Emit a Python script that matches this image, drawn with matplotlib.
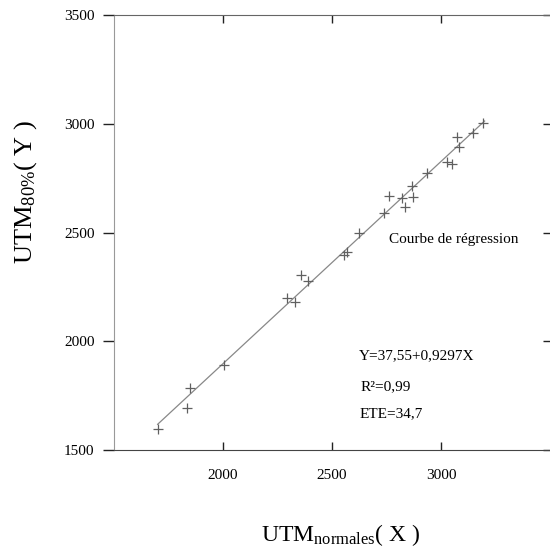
import numpy as np
import matplotlib
matplotlib.use('Agg')
import matplotlib.pyplot as plt

plt.rcParams['font.family'] = ['Liberation Serif', 'DejaVu Serif']
plt.rcParams['mathtext.fontset'] = 'custom'
plt.rcParams['mathtext.rm'] = 'Liberation Serif'
plt.rcParams['mathtext.it'] = 'Liberation Serif:italic'

# UTM normales (X) vs UTM 80% (Y)
utm_normales = [1700, 1835, 1850, 2005, 2295, 2330, 2360, 2390, 2554, 2569,
                2624, 2737, 2761, 2822, 2833, 2868, 2871, 2935, 3026, 3051,
                3072, 3081, 3148, 3191]
utm_80 = [1595, 1692, 1784, 1891, 2200, 2179, 2305, 2277, 2397, 2412,
          2497, 2589, 2668, 2657, 2616, 2714, 2662, 2773, 2824, 2816,
          2937, 2895, 2957, 3003]

intercept = 37.55
slope = 0.9297

xticks = [2000, 2500, 3000]
yticks = [1500, 2000, 2500, 3000, 3500]

fig = plt.figure(figsize=(5.5, 5.52), dpi=100)
ax = fig.add_axes([0.2073, 0.1848, 0.7927, 0.788])

xl = np.array([min(utm_normales), 3200])
ax.plot(xl, intercept + slope*xl, color='#888888', lw=0.9)
ax.plot(utm_normales, utm_80, '+', color='#606060', ms=7, mew=0.9)

ax.set_xlim(1500, 3500)
ax.set_ylim(1500, 3500)
ax.set_xticks(xticks)
ax.set_yticks(yticks)
ax.tick_params(axis='x', direction='in', length=6, width=1.0, color='#222222',
               labelsize=11, top=True, pad=14)
ax.tick_params(axis='y', direction='out', length=8, width=1.0, color='#222222',
               labelsize=11, pad=6)
ax.tick_params(axis='y', which='major', right=True)
for t in ax.yaxis.get_major_ticks():
    t.tick2line.set_marker(matplotlib.lines.TICKLEFT)
    t.tick2line.set_markersize(5)
ax.spines['left'].set_color('#999999')
ax.spines['bottom'].set_color('#444444')
ax.spines['top'].set_color('#666666')
ax.spines['right'].set_visible(False)

ax.text(2760, 2466, 'Courbe de régression', fontsize=11, va='center')
ax.text(2624, 1932, 'Y=37,55+0,9297X', fontsize=11, va='center')
ax.text(2630, 1791, 'R²=0,99', fontsize=11, va='center')
ax.text(2624, 1666, 'ETE=34,7', fontsize=11, va='center')

fig.text(0.047, 0.652, r'UTM$_{80\%}$( Y )', fontsize=19, rotation=90,
         ha='center', va='center')
fig.text(0.62, 0.02, r'UTM$_{\mathrm{normales}}$( X )', fontsize=17,
         ha='center', va='baseline')

fig.savefig('out.png', dpi=100)
